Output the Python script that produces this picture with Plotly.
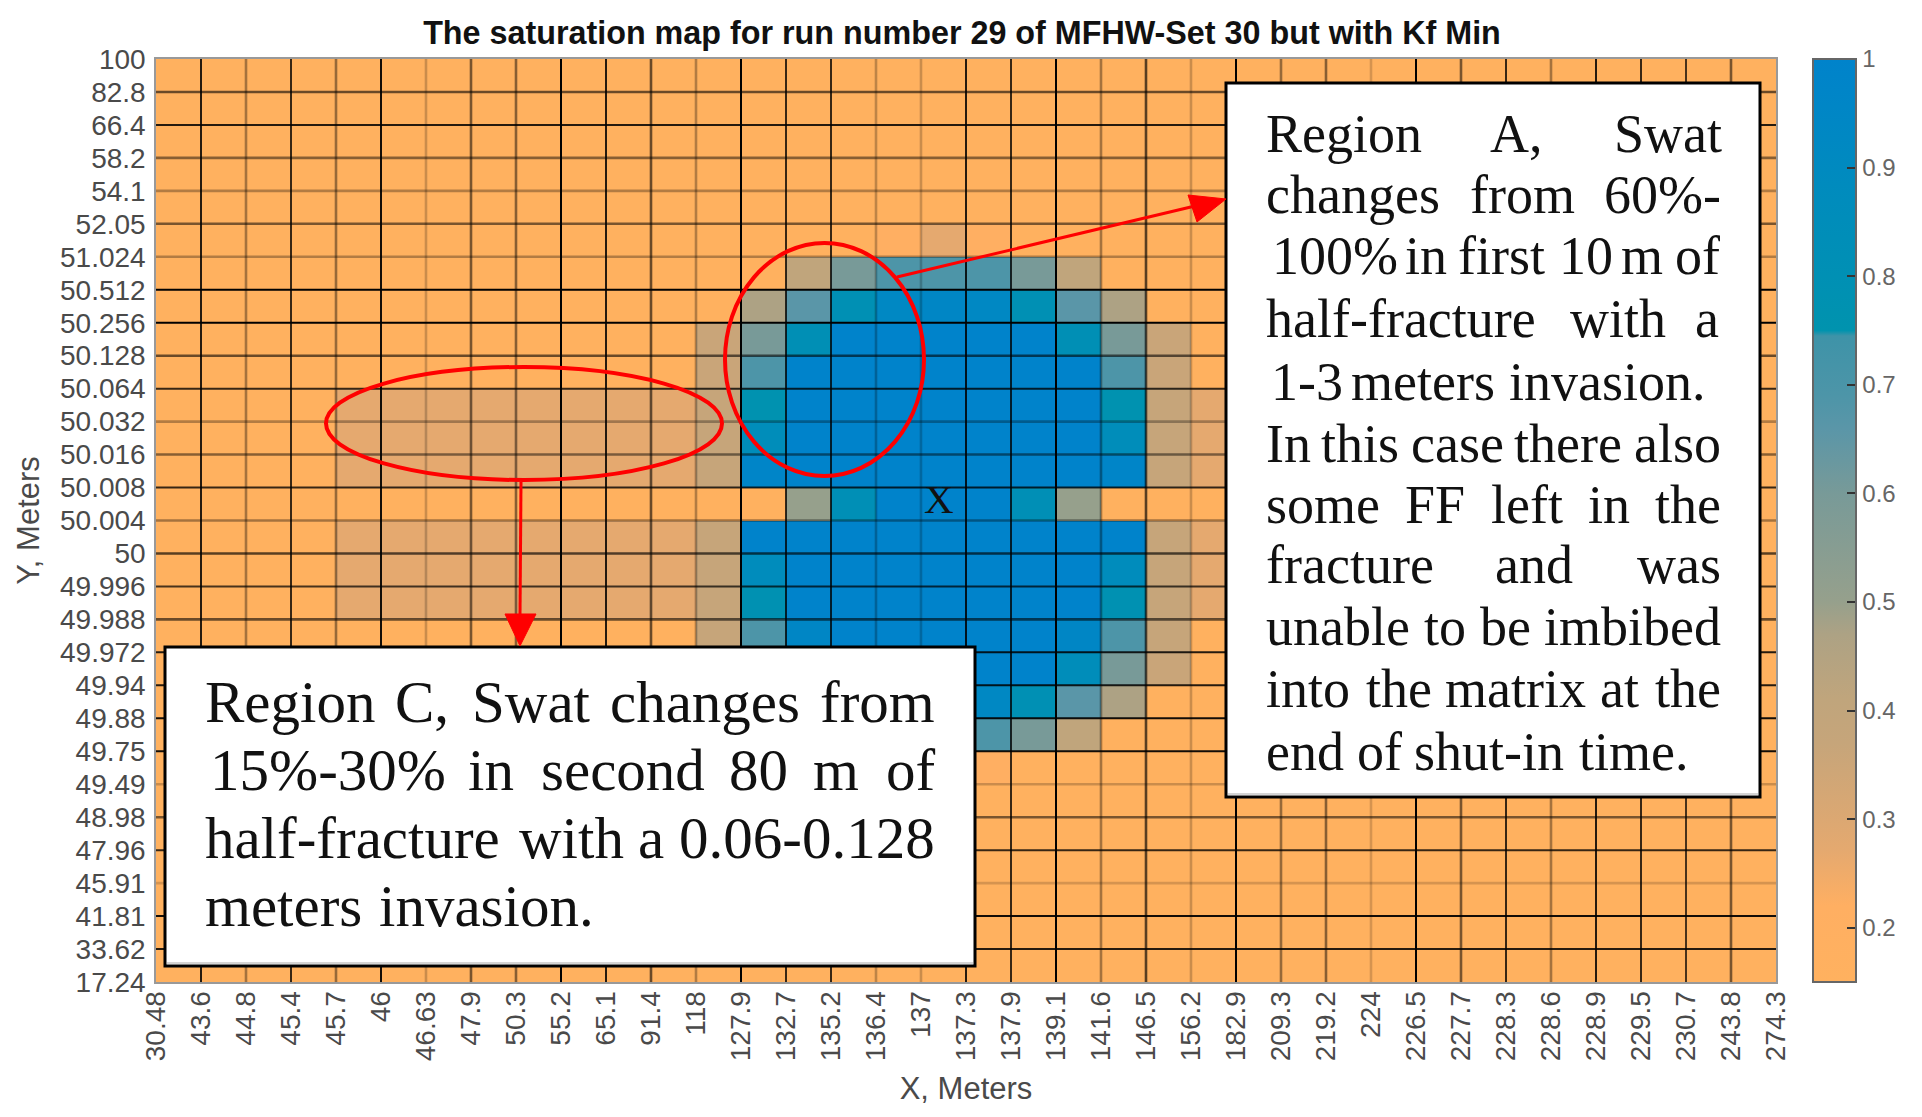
import plotly.graph_objects as go

# ---------- data ----------
x_tick_labels = ["30.48","43.6","44.8","45.4","45.7","46","46.63","47.9","50.3","55.2","65.1","91.4","118",
                 "127.9","132.7","135.2","136.4","137","137.3","137.9","139.1","141.6","146.5","156.2","182.9",
                 "209.3","219.2","224","226.5","227.7","228.3","228.6","228.9","229.5","230.7","243.8","274.3"]
y_tick_labels = ["100","82.8","66.4","58.2","54.1","52.05","51.024","50.512","50.256","50.128","50.064","50.032",
                 "50.016","50.008","50.004","50","49.996","49.988","49.972","49.94","49.88","49.75","49.49",
                 "48.98","47.96","45.91","41.81","33.62","17.24"]
o, t, s, b = 0.15, 0.27, 0.37, 1.0
saturation = [
 [o]*36, [o]*36, [o]*36, [o]*36, [o]*36,
 [o]*16 + [.22,.27,.22] + [o]*17,
 [o]*14 + [.41,.6,.69,.69,.69,.6,.41] + [o]*15,
 [o]*13 + [.47,.66,.8,.93,.95,.93,.8,.66,.47] + [o]*14,
 [o]*12 + [.36,.6,.81,b,b,b,b,b,.81,.6,.36] + [o]*13,
 [o]*12 + [.36,.69,b,b,b,b,b,b,b,.69,.36] + [o]*13,
 [o]*4 + [t]*8 + [s,.77,b,b,b,b,b,b,b,.77,s] + [t]*8 + [o]*5,
 [o]*4 + [t]*8 + [s,.85,b,b,b,b,b,b,b,.85,s] + [t]*8 + [o]*5,
 [o]*4 + [t]*8 + [s,.97,b,b,b,b,b,b,b,.97,s] + [t]*8 + [o]*5,
 [o]*14 + [.5,.82,b,b,b,.82,.5] + [o]*15,
 [o]*4 + [t]*8 + [s,b,b,b,b,b,b,b,b,b,s] + [t]*8 + [o]*5,
 [o]*4 + [t]*8 + [s,.87,b,b,b,b,b,b,b,.87,s] + [t]*8 + [o]*5,
 [o]*4 + [t]*8 + [s,.78,b,b,b,b,b,b,b,.78,s] + [t]*8 + [o]*5,
 [o]*12 + [s,.69,.95,b,b,b,b,b,.95,.69,s] + [o]*13,
 [o]*12 + [.36,.6,.81,b,b,b,b,b,.85,.6,.36] + [o]*13,
 [o]*13 + [.47,.66,.8,.93,.95,.93,.8,.66,.47] + [o]*14,
 [o]*14 + [.41,.6,.69,.69,.69,.6,.41] + [o]*15,
 [o]*16 + [.22,.22,.22] + [o]*17,
 [o]*36, [o]*36, [o]*36, [o]*36, [o]*36, [o]*36,
]
# how dark each resampled grid line looks, for interior edges 1..N-1
x_grid_strength = [.9,.5,.85,.55,.95,.35,.65,.6,1,.9,.7,.45,1,.85,.85,.4,.35,.9,.85,1,.5,.75,.35,1,.55,.6,.3,1,.65,.85,.5,.9,.85,.8,.65]
y_grid_strength = [.7,.9,.6,.45,.65,.45,1,1,.7,.85,.45,.6,.85,.5,.75,.8,.7,.9,.9,.95,.95,.35,.65,.85,.3,.95,.9]

colour_stops = [(.15,"#FFB15F"),(.22,"#FFAF62"),(.27,"#E5A96F"),(.37,"#C6A57A"),(.41,"#C0A57C"),(.47,"#ADA284"),
                (.5,"#96A08C"),(.6,"#789A98"),(.66,"#5A96A8"),(.69,"#4D95A8"),(.745,"#3E93A8"),(.75,"#0093AE"),
                (.8,"#0090B4"),(.87,"#008CBC"),(1.0,"#0083CB")]
colorbar_ticks = [.2,.3,.4,.5,.6,.7,.8,.9,1]

box_a_words = [
 (149.5,[("Region",1265),("A,",1489),("Swat",1613)]),
 (210.5,[("changes",1265),("from",1469),("60%-",1603)]),
 (271.5,[("100%",1271),("in",1404),("first",1457),("10",1558),("m",1620),("of",1674)]),
 (334.5,[("half-fracture",1265),("with",1569),("a",1694)]),
 (397.5,[("1-3",1270),("meters",1350),("invasion.",1508)]),
 (459.5,[("In",1265),("this",1320),("case",1410),("there",1513),("also",1633)]),
 (520.5,[("some",1265),("FF",1404),("left",1490),("in",1587),("the",1654)]),
 (580.5,[("fracture",1265),("and",1494),("was",1636)]),
 (642.5,[("unable",1265),("to",1423),("be",1479),("imbibed",1543)]),
 (704.5,[("into",1265),("the",1365),("matrix",1444),("at",1599),("the",1654)]),
 (767.5,[("end",1265),("of",1356),("shut-in",1413),("time.",1578)]),
]
box_c_words = [
 (719,[("Region",204),("C,",394),("Swat",471),("changes",609),("from",819)]),
 (787,[("15%-30%",209),("in",467),("second",540),("80",728),("m",812),("of",885)]),
 (855,[("half-fracture",204),("with",518),("a",637),("0.06-0.128",678)]),
 (923,[("meters",204),("invasion.",378)]),
]

# ---------- layout constants (pixels in the 1922x1117 page) ----------
W, H = 1922, 1117
L, R, T, B = 156, 1776, 59, 982
def px(x): return (x - L) / (R - L)
def py(y): return 1 - (y - T) / (B - T)

n_rows, n_cols = len(saturation), len(saturation[0])
zmin, zmax = .15, 1.0
colorscale = [[(v - zmin) / (zmax - zmin), c] for v, c in colour_stops]

fig = go.Figure()
fig.add_trace(go.Heatmap(
    z=saturation, x=list(range(n_cols + 1)), y=list(range(n_rows + 1)),
    zmin=zmin, zmax=zmax, colorscale=colorscale, hoverinfo="skip",
    colorbar=dict(x=px(1813), xanchor="left", xpad=0, y=1, yanchor="top", ypad=0,
                  lenmode="pixels", len=B - T, thicknessmode="pixels", thickness=43,
                  tickvals=colorbar_ticks, ticktext=[f"{v:g}" for v in colorbar_ticks],
                  ticks="inside", ticklen=10, tickcolor="#333", tickwidth=1.5,
                  tickprefix="\u00a0", tickfont=dict(family="Liberation Sans", size=24, color="#666666"),
                  outlinecolor="#666666", outlinewidth=2),
))
def grid_line(a):
    return dict(color=f"rgba(0,0,0,{a ** 1.5:.3f})", width=2 if a >= .8 else 2.6)
for j, a in enumerate(x_grid_strength, start=1):
    fig.add_trace(go.Scatter(x=[j, j], y=[0, n_rows], mode="lines", hoverinfo="skip", showlegend=False,
                             line=grid_line(a)))
for i, a in enumerate(y_grid_strength, start=1):
    fig.add_trace(go.Scatter(x=[0, n_cols], y=[i, i], mode="lines", hoverinfo="skip", showlegend=False,
                             line=grid_line(a)))

RED = "#FF0000"
def rect(x0, y0, x1, y1):
    return dict(type="rect", xref="paper", yref="paper", x0=px(x0), x1=px(x1), y0=py(y1), y1=py(y0),
                fillcolor="white", line=dict(color="black", width=3), layer="above")
def shadow(x0, y, x1):
    return dict(type="line", xref="paper", yref="paper", x0=px(x0), x1=px(x1), y0=py(y), y1=py(y),
                line=dict(color="#D4D4D4", width=2), layer="above")
def ellipse(x0, y0, x1, y1):
    return dict(type="circle", xref="paper", yref="paper", x0=px(x0), x1=px(x1), y0=py(y1), y1=py(y0),
                line=dict(color=RED, width=4), layer="above")
def seg(x0, y0, x1, y1):
    return dict(type="line", xref="paper", yref="paper", x0=px(x0), x1=px(x1), y0=py(y0), y1=py(y1),
                line=dict(color=RED, width=3), layer="above")
def tri(a, c, d):
    return dict(type="path", xref="paper", yref="paper", layer="above", fillcolor=RED, line=dict(color=RED, width=1),
                path="M %f %f L %f %f L %f %f Z" % (px(a[0]), py(a[1]), px(c[0]), py(c[1]), px(d[0]), py(d[1])))

shapes = [
    rect(1226, 83, 1760, 797), shadow(1228, 794, 1758),
    rect(165, 647, 975, 966), shadow(167, 963, 973),
    ellipse(725, 243, 924, 476), ellipse(326, 367, 722, 480),
    seg(897, 277, 1195, 206), tri((1226, 199), (1197, 222), (1188, 195)),
    seg(521, 482, 520, 616), tri((520, 646), (505, 614), (536, 614)),
]

annotations = []
def add_words(lines, size):
    for baseline, words in lines:
        for word, x in words:
            annotations.append(dict(text=word, xref="paper", yref="paper", x=px(x), y=py(baseline - 0.29 * size),
                                    xanchor="left", yanchor="middle", showarrow=False, borderpad=0,
                                    font=dict(family="Liberation Serif", size=size, color="#111111")))
add_words(box_a_words, 54)
add_words(box_c_words, 59)
add_words([(511, [("X", 923)])], 41)

axis_font = dict(family="Liberation Sans", size=28, color="#4a4a4a")
title_font = dict(family="Liberation Sans", size=31, color="#4a4a4a")
fig.update_layout(
    width=W, height=H, margin=dict(l=L, r=W - R, t=T, b=H - B, pad=0),
    paper_bgcolor="white", plot_bgcolor="white", showlegend=False,
    title=dict(text="The saturation map for run number 29 of MFHW-Set 30 but with Kf Min",
               x=px(962), xref="paper", xanchor="center", y=1 - 33 / H, yref="container", yanchor="middle",
               font=dict(family="Liberation Sans", size=32.3, color="#111111", weight="bold")),
    xaxis=dict(range=[0, n_cols], tickmode="array", tickvals=list(range(n_cols + 1)), ticktext=x_tick_labels,
               tickangle=-90, ticks="", ticklabelstandoff=-4, showgrid=False, zeroline=False, showline=True, mirror=True,
               linecolor="#999999", linewidth=2, automargin=False, tickfont=axis_font,
               title=dict(text="X, Meters", standoff=17, font=title_font)),
    yaxis=dict(range=[n_rows, 0], tickmode="array", tickvals=list(range(n_rows + 1)), ticktext=y_tick_labels,
               ticks="", ticklabelstandoff=3, showgrid=False, zeroline=False, showline=True, mirror=True,
               linecolor="#999999", linewidth=1.5, automargin=False, tickfont=axis_font,
               title=dict(text="Y, Meters", standoff=11, font=title_font)),
    shapes=shapes, annotations=annotations,
)
fig.write_html("out.html", config=dict(displayModeBar=False),
               post_script="document.body.style.margin='0';document.body.style.overflow='hidden';")
